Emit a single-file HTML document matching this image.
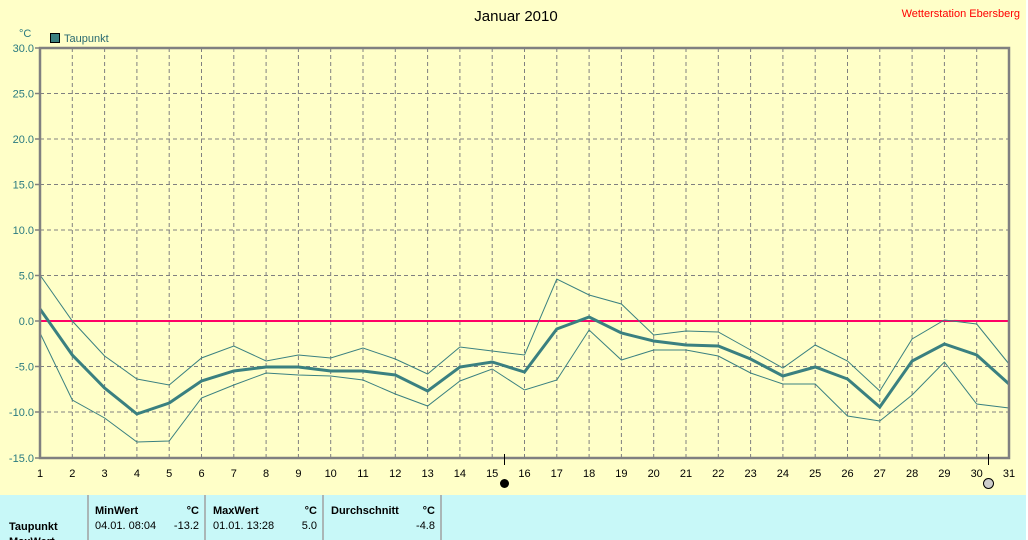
<!DOCTYPE html>
<html><head><meta charset="utf-8"><style>
body{margin:0;width:1028px;height:540px;overflow:hidden;background:#ffffc8;font-family:"Liberation Sans",sans-serif}
</style></head><body>
<svg width="1028" height="540" style="position:absolute;left:0;top:0" font-family="Liberation Sans, sans-serif">
<rect x="0" y="0" width="1028" height="540" fill="#ffffc8"/>
<text x="516" y="21" font-size="15" text-anchor="middle" fill="#000">Januar 2010</text>
<text x="1020" y="17" font-size="11" text-anchor="end" fill="#ff0000">Wetterstation Ebersberg</text>
<text x="19" y="37" font-size="11" fill="#2a7a80">°C</text>
<rect x="50.5" y="33.5" width="9" height="9" fill="#3a8080" stroke="#000"/>
<text x="64" y="42" font-size="11" fill="#2a6a70">Taupunkt</text>
<g stroke="#808080" stroke-dasharray="4,3" stroke-width="1">
<line x1="72.3" y1="48" x2="72.3" y2="458"/><line x1="104.6" y1="48" x2="104.6" y2="458"/><line x1="136.9" y1="48" x2="136.9" y2="458"/><line x1="169.2" y1="48" x2="169.2" y2="458"/><line x1="201.5" y1="48" x2="201.5" y2="458"/><line x1="233.8" y1="48" x2="233.8" y2="458"/><line x1="266.1" y1="48" x2="266.1" y2="458"/><line x1="298.4" y1="48" x2="298.4" y2="458"/><line x1="330.7" y1="48" x2="330.7" y2="458"/><line x1="363" y1="48" x2="363" y2="458"/><line x1="395.3" y1="48" x2="395.3" y2="458"/><line x1="427.6" y1="48" x2="427.6" y2="458"/><line x1="459.9" y1="48" x2="459.9" y2="458"/><line x1="492.2" y1="48" x2="492.2" y2="458"/><line x1="524.5" y1="48" x2="524.5" y2="458"/><line x1="556.8" y1="48" x2="556.8" y2="458"/><line x1="589.1" y1="48" x2="589.1" y2="458"/><line x1="621.4" y1="48" x2="621.4" y2="458"/><line x1="653.7" y1="48" x2="653.7" y2="458"/><line x1="686" y1="48" x2="686" y2="458"/><line x1="718.3" y1="48" x2="718.3" y2="458"/><line x1="750.6" y1="48" x2="750.6" y2="458"/><line x1="782.9" y1="48" x2="782.9" y2="458"/><line x1="815.2" y1="48" x2="815.2" y2="458"/><line x1="847.5" y1="48" x2="847.5" y2="458"/><line x1="879.8" y1="48" x2="879.8" y2="458"/><line x1="912.1" y1="48" x2="912.1" y2="458"/><line x1="944.4" y1="48" x2="944.4" y2="458"/><line x1="976.7" y1="48" x2="976.7" y2="458"/>
<line x1="40" y1="93.5" x2="1009" y2="93.5"/><line x1="40" y1="139" x2="1009" y2="139"/><line x1="40" y1="184.5" x2="1009" y2="184.5"/><line x1="40" y1="230" x2="1009" y2="230"/><line x1="40" y1="275.5" x2="1009" y2="275.5"/><line x1="40" y1="366.5" x2="1009" y2="366.5"/><line x1="40" y1="412" x2="1009" y2="412"/>
</g>
<line x1="40" y1="321" x2="1009" y2="321" stroke="#ff0066" stroke-width="2"/>
<g fill="none" stroke="#3a8080">
<polyline stroke-width="1" points="40,275 72.3,321 104.6,356 136.9,379 169.2,385 201.5,358 233.8,346 266.1,361 298.4,355 330.7,358 363,348 395.3,359 427.6,374 459.9,347 492.2,351 524.5,355 556.8,279 589.1,295 621.4,304 653.7,335 686,331 718.3,332 750.6,350 782.9,368 815.2,345 847.5,361 879.8,391 912.1,339 944.4,320 976.7,324 1009,364"/>
<polyline stroke-width="1" points="40,333 72.3,400 104.6,418 136.9,442 169.2,441 201.5,398 233.8,385 266.1,373 298.4,375 330.7,376 363,380 395.3,394 427.6,406 459.9,381 492.2,369 524.5,390 556.8,380 589.1,330 621.4,360 653.7,350 686,350 718.3,356 750.6,373 782.9,384 815.2,384 847.5,416 879.8,421 912.1,395 944.4,362 976.7,404 1009,408"/>
<polyline stroke-width="3" points="40,309 72.3,355 104.6,388 136.9,414 169.2,403 201.5,381 233.8,371 266.1,367 298.4,367 330.7,371 363,371 395.3,375 427.6,391 459.9,367 492.2,362 524.5,372 556.8,329 589.1,317 621.4,333 653.7,341 686,345 718.3,346 750.6,359 782.9,376 815.2,367 847.5,379 879.8,407 912.1,361 944.4,344 976.7,355 1009,384"/>
</g>
<rect x="40" y="48" width="969" height="410" fill="none" stroke="#808080" stroke-width="2.5"/>
<g stroke="#808080" stroke-width="1.5">
<line x1="35" y1="48" x2="40" y2="48"/><line x1="35" y1="93.5" x2="40" y2="93.5"/><line x1="35" y1="139" x2="40" y2="139"/><line x1="35" y1="184.5" x2="40" y2="184.5"/><line x1="35" y1="230" x2="40" y2="230"/><line x1="35" y1="275.5" x2="40" y2="275.5"/><line x1="35" y1="321" x2="40" y2="321"/><line x1="35" y1="366.5" x2="40" y2="366.5"/><line x1="35" y1="412" x2="40" y2="412"/><line x1="35" y1="458" x2="40" y2="458"/>
</g>
<g font-size="11" fill="#2a7a80" text-anchor="end">
<text x="34" y="52">30.0</text><text x="34" y="97.5">25.0</text><text x="34" y="143">20.0</text><text x="34" y="188.5">15.0</text><text x="34" y="234">10.0</text><text x="34" y="279.5">5.0</text><text x="34" y="325">0.0</text><text x="34" y="370.5">-5.0</text><text x="34" y="416">-10.0</text><text x="34" y="462">-15.0</text>
</g>
<g font-size="11" fill="#000" text-anchor="middle">
<text x="40" y="477">1</text><text x="72.3" y="477">2</text><text x="104.6" y="477">3</text><text x="136.9" y="477">4</text><text x="169.2" y="477">5</text><text x="201.5" y="477">6</text><text x="233.8" y="477">7</text><text x="266.1" y="477">8</text><text x="298.4" y="477">9</text><text x="330.7" y="477">10</text><text x="363" y="477">11</text><text x="395.3" y="477">12</text><text x="427.6" y="477">13</text><text x="459.9" y="477">14</text><text x="492.2" y="477">15</text><text x="524.5" y="477">16</text><text x="556.8" y="477">17</text><text x="589.1" y="477">18</text><text x="621.4" y="477">19</text><text x="653.7" y="477">20</text><text x="686" y="477">21</text><text x="718.3" y="477">22</text><text x="750.6" y="477">23</text><text x="782.9" y="477">24</text><text x="815.2" y="477">25</text><text x="847.5" y="477">26</text><text x="879.8" y="477">27</text><text x="912.1" y="477">28</text><text x="944.4" y="477">29</text><text x="976.7" y="477">30</text><text x="1009" y="477">31</text>
</g>
<line x1="504.5" y1="454" x2="504.5" y2="465" stroke="#000"/>
<circle cx="504.5" cy="483.5" r="4.5" fill="#000"/>
<line x1="988.5" y1="454" x2="988.5" y2="465" stroke="#000"/>
<circle cx="988.5" cy="483.5" r="5" fill="#ccc" stroke="#000"/>
<rect x="1026" y="0" width="2" height="540" fill="#ffffff"/>
<rect x="0" y="495" width="1026" height="45" fill="#c8f8f8"/>
<g stroke="#a0a0a0" stroke-width="1.5"><line x1="88" y1="495" x2="88" y2="540"/><line x1="205" y1="495" x2="205" y2="540"/><line x1="323" y1="495" x2="323" y2="540"/><line x1="441" y1="495" x2="441" y2="540"/></g>
<g font-size="11" fill="#000">
<text x="95" y="514" font-weight="bold">MinWert</text><text x="199" y="514" font-weight="bold" text-anchor="end">°C</text>
<text x="213" y="514" font-weight="bold">MaxWert</text><text x="317" y="514" font-weight="bold" text-anchor="end">°C</text>
<text x="331" y="514" font-weight="bold">Durchschnitt</text><text x="435" y="514" font-weight="bold" text-anchor="end">°C</text>
<text x="9" y="530" font-weight="bold">Taupunkt</text>
<text x="95" y="529">04.01.  08:04</text><text x="199" y="529" text-anchor="end">-13.2</text>
<text x="213" y="529">01.01.  13:28</text><text x="317" y="529" text-anchor="end">5.0</text>
<text x="435" y="529" text-anchor="end">-4.8</text>
<text x="9" y="545" font-weight="bold">MaxWert</text>
</g>
</svg>
</body></html>
